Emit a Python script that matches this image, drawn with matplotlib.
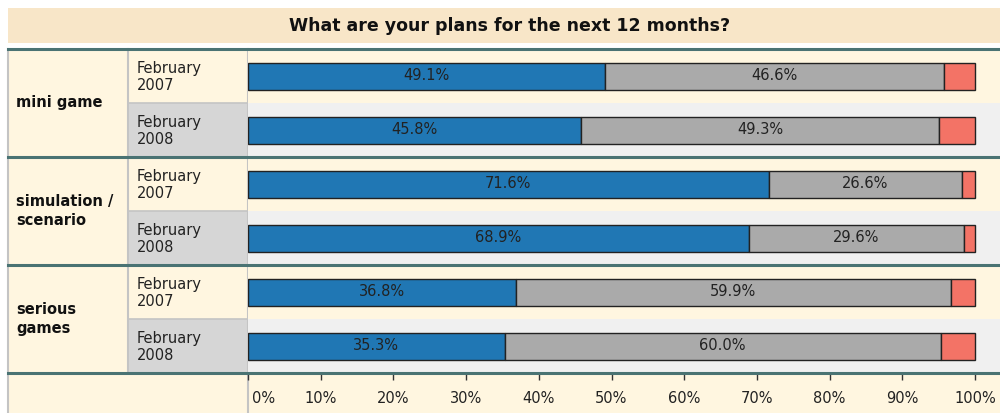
import matplotlib
matplotlib.use("Agg")
import matplotlib.pyplot as plt
from matplotlib.patches import Rectangle
from matplotlib.lines import Line2D
import matplotlib.transforms as mtransforms

# ---------------- data ----------------
title = "What are your plans for the next 12 months?"
groups = ["mini game", "simulation /\nscenario", "serious\ngames"]
periods = ["February\n2007", "February\n2008"]
increase = [49.1, 45.8, 71.6, 68.9, 36.8, 35.3]     # blue
same = [46.6, 49.3, 26.6, 29.6, 59.9, 60.0]         # gray
decrease = [4.3, 4.9, 1.8, 1.5, 3.3, 4.7]           # red
ticks = [0, 10, 20, 30, 40, 50, 60, 70, 80, 90, 100]
tick_labels = [f"{t}%" for t in ticks]

# ---------------- styles ----------------
W, H = 1000, 413
BLUE = "#2077B4"
GRAY = "#AAAAAA"
RED = "#F37366"
CREAM = "#FFF6E0"
LGRAY = "#F0F0F0"
DGRAY_CELL = "#D6D6D6"
TITLE_BG = "#F8E6C8"
TEAL = "#4A7373"
BORDER = "#C4C4C4"
FONT = "DejaVu Sans"

fig = plt.figure(figsize=(W / 100, H / 100), dpi=100)
fig.patch.set_facecolor("white")

# pixel-coordinate background axes
bg = fig.add_axes([0, 0, 1, 1])
bg.set_xlim(0, W)
bg.set_ylim(H, 0)
bg.axis("off")

x0, xc1, xc2, xr = 8, 128, 248, 1000
ytop, sub_h = 49, 54
ybot = ytop + 6 * sub_h

# title band
bg.add_patch(Rectangle((x0, 8), xr - x0, 35, facecolor=TITLE_BG, edgecolor="none"))
bg.text(510, 26, title, ha="center", va="center", fontsize=12.5,
        fontweight="bold", family=FONT, color="#111111")

# cells
for i in range(6):
    y = ytop + i * sub_h
    bg.add_patch(Rectangle((x0, y), xc1 - x0, sub_h, facecolor=CREAM, edgecolor="none"))
    bg.add_patch(Rectangle((xc1, y), xc2 - xc1, sub_h,
                           facecolor=CREAM if i % 2 == 0 else DGRAY_CELL, edgecolor="none"))
    bg.text(xc1 + 9, y + sub_h / 2 + 1, periods[i % 2], ha="left", va="center",
            fontsize=10.5, family=FONT, color="#222222", linespacing=1.25)
    bg.plot([xc1, xc2], [y + sub_h, y + sub_h], color=BORDER, lw=1.2)
# axis row
bg.add_patch(Rectangle((x0, ybot), xr - x0, H - ybot, facecolor=CREAM, edgecolor="none"))

for g, name in enumerate(groups):
    yc = ytop + (2 * g + 1) * sub_h
    bg.text(x0 + 8, yc, name, ha="left", va="center", fontsize=10.5,
            fontweight="bold", family=FONT, color="#111111", linespacing=1.3)

# vertical borders
bg.plot([x0, x0], [ytop, H], color=BORDER, lw=1.5)
bg.plot([xc1, xc1], [ytop, ybot], color=BORDER, lw=1.5)
bg.plot([xc2, xc2], [ytop, H], color=BORDER, lw=1.5)

# ---------------- bar axes ----------------
ax = fig.add_axes([xc2 / W, (H - ybot) / H, (xr - xc2) / W, (ybot - ytop) / H])
ax.patch.set_alpha(0)
xmax = 100 * (xr - xc2) / (975 - xc2)
ax.set_xlim(0, xmax)
ax.set_ylim(6, 0)
for s in ax.spines.values():
    s.set_visible(False)

for i in range(6):
    ax.axhspan(i, i + 1, color=CREAM if i % 2 == 0 else LGRAY, zorder=0, lw=0)

ypos = [i + 0.5 for i in range(6)]
kw = dict(height=0.5, edgecolor="#222222", linewidth=1.0, zorder=3)
ax.barh(ypos, increase, color=BLUE, **kw)
ax.barh(ypos, same, left=increase, color=GRAY, **kw)
left2 = [a + b for a, b in zip(increase, same)]
ax.barh(ypos, decrease, left=left2, color=RED, **kw)

for i in range(6):
    ax.text(increase[i] / 2, ypos[i], f"{increase[i]:.1f}%", ha="center", va="center",
            fontsize=10.5, family=FONT, color="#222222", zorder=4)
    ax.text(increase[i] + same[i] / 2, ypos[i], f"{same[i]:.1f}%", ha="center",
            va="center", fontsize=10.5, family=FONT, color="#222222", zorder=4)

ax.set_yticks([])
ax.set_xticks(ticks)
ax.set_xticklabels(tick_labels, fontsize=10.5, family=FONT, color="#222222")
ax.tick_params(axis="x", direction="out", length=5, width=1, color="#333333", pad=8)
lbl0 = ax.get_xticklabels()[0]
lbl0.set_horizontalalignment("left")
lbl0.set_transform(lbl0.get_transform() +
                   mtransforms.ScaledTranslation(4 / 100, 0, fig.dpi_scale_trans))

# group separator lines (teal)
for g in range(4):
    y = ytop + g * 2 * sub_h
    fig.add_artist(Line2D([x0 / W, 1], [1 - y / H, 1 - y / H], color=TEAL, lw=2.2,
                          zorder=10, transform=fig.transFigure))

fig.savefig("out.png", dpi=100)
